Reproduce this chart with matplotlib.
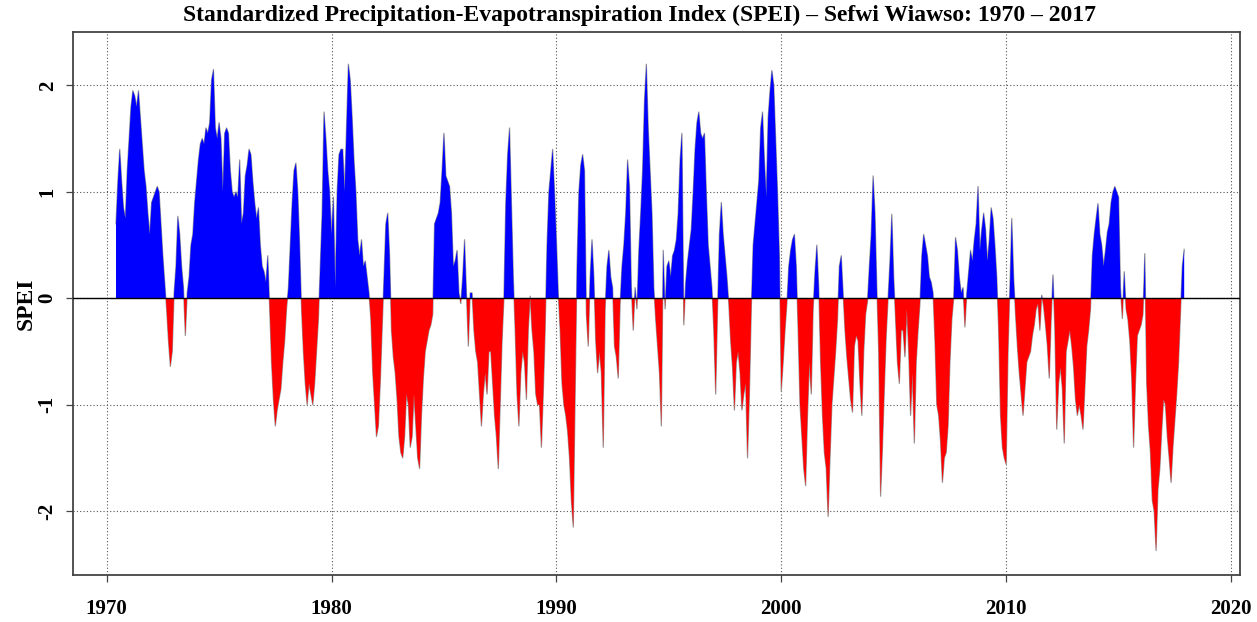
import numpy as np
import matplotlib.pyplot as plt

plt.rcParams['axes.unicode_minus'] = False

# monthly SPEI values; series starts June 1970
start_year = 1970
start_month = 6

spei_1970s = [
    0.7, 1.1, 1.4, 1.1, 0.85, 0.75, 1.2,                                   # 1970 Jun-Dec
    1.5, 1.8, 1.95, 1.9, 1.8, 1.95, 1.7, 1.45, 1.2, 1.05, 0.8, 0.6,        # 1971
    0.9, 0.95, 1.0, 1.05, 1.0, 0.7, 0.4, 0.15, -0.1, -0.4, -0.64, -0.5,    # 1972
    0.05, 0.3, 0.77, 0.6, 0.3, 0.1, -0.35, 0.05, 0.2, 0.5, 0.6, 0.9,       # 1973
    1.1, 1.3, 1.45, 1.5, 1.45, 1.6, 1.55, 1.65, 2.05, 2.15, 1.6, 1.5,      # 1974
    1.65, 1.5, 1.0, 1.55, 1.6, 1.55, 1.2, 1.0, 0.95, 1.0, 0.95, 1.3,       # 1975
    0.7, 0.8, 1.15, 1.25, 1.4, 1.35, 1.1, 0.9, 0.75, 0.85, 0.5, 0.3,       # 1976
    0.25, 0.15, 0.4, -0.1, -0.6, -0.95, -1.2, -1.05, -0.95, -0.85, -0.6, -0.4,  # 1977
    -0.1, 0.1, 0.5, 0.9, 1.2, 1.27, 1.0, 0.5, -0.1, -0.5, -0.8, -1.0,      # 1978
    -0.8, -0.9, -1.0, -0.8, -0.5, -0.2, 0.3, 0.8, 1.75, 1.5, 1.2, 1.0,     # 1979
]

spei_1980s = [
    0.6, 0.95, 0.1, 1.0, 1.35, 1.4, 1.4, 1.0, 1.6, 2.2, 2.05, 1.7,         # 1980
    1.3, 1.0, 0.55, 0.4, 0.55, 0.3, 0.35, 0.2, 0.05, -0.2, -0.7, -1.0,     # 1981
    -1.3, -1.2, -0.8, -0.3, 0.2, 0.7, 0.8, 0.4, -0.3, -0.55, -0.7, -0.95,  # 1982
    -1.3, -1.45, -1.5, -1.3, -0.9, -1.0, -1.4, -1.3, -0.9, -1.2, -1.5, -1.6,  # 1983
    -1.1, -0.75, -0.5, -0.4, -0.3, -0.25, -0.15, 0.7, 0.75, 0.8, 0.9, 1.2,  # 1984
    1.55, 1.15, 1.1, 1.05, 0.8, 0.3, 0.35, 0.45, 0.05, -0.05, 0.2, 0.55,   # 1985
    0.05, -0.45, 0.05, 0.05, -0.3, -0.5, -0.6, -0.9, -1.2, -0.9, -0.7, -0.9,  # 1986
    -0.5, -0.5, -0.8, -1.1, -1.3, -1.6, -1.0, -0.4, 0.0, 0.9, 1.35, 1.6,   # 1987
    0.9, 0.2, -0.3, -0.9, -1.2, -0.7, -0.5, -0.6, -0.95, -0.3, 0.02, -0.3,  # 1988
    -0.5, -0.9, -1.0, -1.0, -1.4, -0.9, -0.3, 0.5, 1.0, 1.2, 1.4, 1.0,     # 1989
]

spei_1990s = [
    0.55, 0.05, -0.3, -0.8, -1.0, -1.1, -1.25, -1.5, -1.9, -2.15, -0.9, 0.3,  # 1990
    1.0, 1.25, 1.35, 1.2, -0.15, -0.45, 0.2, 0.55, 0.2, -0.4, -0.7, -0.5,  # 1991
    -0.7, -1.4, -0.1, 0.3, 0.45, 0.2, 0.1, -0.45, -0.55, -0.75, -0.05, 0.3,  # 1992
    0.5, 0.8, 1.3, 1.05, 0.1, -0.3, 0.1, -0.1, 0.45, 0.8, 1.2, 1.85,       # 1993
    2.2, 1.6, 1.2, 0.8, 0.1, -0.2, -0.45, -0.7, -1.2, 0.45, -0.1, 0.3,     # 1994
    0.35, 0.2, 0.4, 0.45, 0.55, 0.8, 1.3, 1.55, -0.25, 0.15, 0.35, 0.5,    # 1995
    0.65, 1.0, 1.4, 1.65, 1.75, 1.55, 1.5, 1.55, 1.0, 0.5, 0.3, 0.1,       # 1996
    -0.3, -0.9, -0.1, 0.6, 0.9, 0.6, 0.4, 0.2, -0.05, -0.4, -0.65, -1.05,  # 1997
    -0.6, -0.5, -0.7, -1.05, -0.9, -0.8, -1.5, -0.9, -0.1, 0.5, 0.7, 0.9,  # 1998
    1.1, 1.6, 1.75, 1.3, 0.95, 1.7, 1.95, 2.14, 2.0, 1.5, 1.0, 0.4,        # 1999
]

spei_2000s = [
    -0.87, -0.6, -0.3, -0.05, 0.3, 0.45, 0.55, 0.6, 0.3, -0.3, -1.0, -1.3,  # 2000
    -1.6, -1.76, -1.1, -0.6, -0.9, -0.1, 0.25, 0.5, 0.1, -0.6, -1.1, -1.45,  # 2001
    -1.6, -2.05, -1.5, -1.0, -0.75, -0.5, -0.2, 0.3, 0.4, 0.05, -0.3, -0.55,  # 2002
    -0.75, -0.95, -1.07, -0.45, -0.35, -0.4, -0.8, -1.1, -0.5, -0.15, -0.03, 0.3,  # 2003
    0.6, 1.15, 0.8, 0.1, -0.5, -1.86, -1.4, -0.85, -0.35, 0.0, 0.35, 0.79,  # 2004
    0.2, -0.2, -0.6, -0.8, -0.3, -0.3, -0.55, -0.1, -0.5, -1.1, -0.7, -1.36,  # 2005
    -0.6, -0.3, -0.05, 0.4, 0.6, 0.5, 0.4, 0.2, 0.15, 0.05, -0.4, -1.0,    # 2006
    -1.1, -1.35, -1.73, -1.5, -1.45, -1.2, -0.6, -0.2, 0.0, 0.57, 0.45, 0.2,  # 2007
    0.05, 0.1, -0.27, 0.05, 0.25, 0.45, 0.35, 0.55, 0.7, 1.05, 0.45, 0.65,  # 2008
    0.8, 0.65, 0.35, 0.55, 0.85, 0.75, 0.5, 0.2, -0.3, -1.1, -1.4, -1.5,   # 2009
]

spei_2010s = [
    -1.56, -0.5, 0.1, 0.75, 0.2, -0.15, -0.45, -0.7, -0.9, -1.1, -0.85, -0.6,  # 2010
    -0.55, -0.5, -0.35, -0.25, -0.1, -0.05, -0.3, 0.03, -0.08, -0.25, -0.45, -0.75,  # 2011
    -0.2, 0.22, -0.3, -1.23, -0.8, -0.65, -0.85, -1.36, -0.5, -0.4, -0.3, -0.45,  # 2012
    -0.65, -0.95, -1.1, -1.0, -1.1, -1.23, -0.85, -0.45, -0.3, -0.1, 0.4, 0.6,  # 2013
    0.75, 0.89, 0.6, 0.5, 0.3, 0.45, 0.62, 0.7, 0.9, 1.0, 1.05, 1.0,       # 2014
    0.95, 0.1, -0.19, 0.25, -0.1, -0.2, -0.4, -0.75, -1.4, -0.8, -0.35, -0.3,  # 2015
    -0.25, -0.15, 0.42, -0.8, -1.2, -1.45, -1.9, -2.0, -2.37, -1.8, -1.6, -1.25,  # 2016
    -0.95, -1.0, -1.3, -1.5, -1.73, -1.4, -1.15, -0.9, -0.6, -0.15, 0.3, 0.46,  # 2017
]

spei = np.array(spei_1970s + spei_1980s + spei_1990s + spei_2000s + spei_2010s)
t = start_year + (start_month - 1 + np.arange(len(spei))) / 12.0

font = 'Liberation Serif'

fig = plt.figure(figsize=(12.57, 6.22), dpi=100)
ax = fig.add_axes([0.058, 0.0756, 0.9285, 0.8726])

ax.plot(t, spei, color='#9a9a9a', lw=0.9, zorder=2)
ax.fill_between(t, spei, 0, where=spei >= 0, interpolate=True, color='#0000ff', lw=0, zorder=3)
ax.fill_between(t, spei, 0, where=spei < 0, interpolate=True, color='#ff0000', lw=0, zorder=3)
ax.axhline(0, color='black', lw=1.0, zorder=4)

ax.set_xlim(1968.5, 2020.4)
ax.set_ylim(-2.6, 2.5)
ax.set_xticks(np.arange(1970, 2021, 10))
ax.set_yticks([-2, -1, 0, 1, 2])
ax.grid(True, linestyle=(0, (1, 2)), color='#555555', lw=0.8)
ax.set_axisbelow(True)

for s in ax.spines.values():
    s.set_color('#444444')
    s.set_linewidth(1.3)

ax.tick_params(axis='both', direction='out', length=5, width=0.9, color='#444444')
ax.tick_params(axis='x', pad=12)
ax.tick_params(axis='y', pad=6)
for lab in ax.get_xticklabels():
    lab.set_fontfamily(font)
    lab.set_fontweight('bold')
    lab.set_fontsize(15)
for lab in ax.get_yticklabels():
    lab.set_fontfamily(font)
    lab.set_fontweight('bold')
    lab.set_fontsize(15)
    lab.set_rotation(90)
    lab.set_va('center')

ax.set_ylabel('SPEI', fontfamily=font, fontweight='bold', fontsize=17, labelpad=1)

fig.text(0.509, 0.976, 'Standardized Precipitation-Evapotranspiration Index (SPEI) \u2013 Sefwi Wiawso: 1970 \u2013 2017',
         ha='center', va='center', fontfamily=font, fontweight='bold', fontsize=17)

plt.savefig('out.png', dpi=100)
